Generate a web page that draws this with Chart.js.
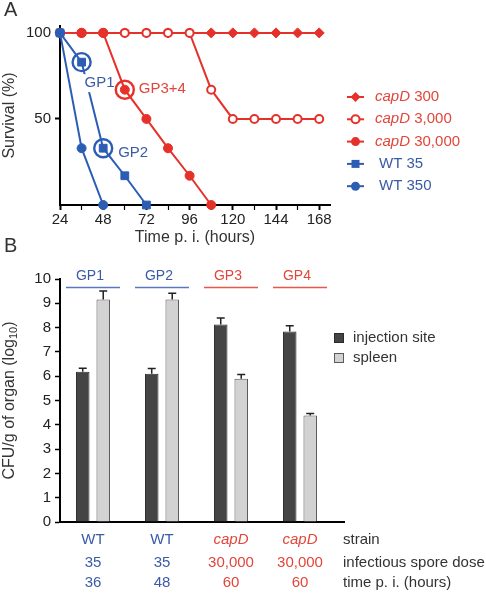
<!DOCTYPE html>
<html>
<head>
<meta charset="utf-8">
<script src="https://cdn.jsdelivr.net/npm/chart.js@4/dist/chart.umd.min.js"></script>
<style>
  html, body { margin: 0; padding: 0; background: #fff; }
  #wrap { position: relative; width: 486px; height: 601px; overflow: hidden; }
  canvas { position: absolute; left: 0; }
  #survival { top: 0; }
  #cfu { top: 240px; }
  .panel { position: absolute; left: 4px; font: 20px 'Liberation Sans', Arial, sans-serif; color: #333; }
</style>
</head>
<body>
<div id="wrap">
  <canvas id="survival" width="486" height="250"></canvas>
  <canvas id="cfu" width="486" height="361"></canvas>
  <div class="panel" style="top:-2px">A</div>
  <div class="panel" style="top:234px">B</div>
</div>
<script>
// panel A: survival (%) at hours post infection
const hours = [24, 36, 48, 60, 72, 84, 96, 108, 120, 132, 144, 156, 168];
const capD300 = [100, 100, 100, 100, 100, 100, 100, 100, 100, 100, 100, 100, 100];
const capD3000 = [100, 100, 100, 100, 100, 100, 100, 67, 50, 50, 50, 50, 50];
const capD30000 = [100, 100, 100, 67, 50, 33, 17, 0];
const wt35 = [100, 83, 33, 17, 0];
const wt350 = [100, 33, 0];
const survivalTicks = [50, 100];

// panel B: CFU per gram of organ (log10)
const groups = ["GP1", "GP2", "GP3", "GP4"];
const strains = ["WT", "WT", "capD", "capD"];
const doses = ["35", "35", "30,000", "30,000"];
const timesPi = ["36", "48", "60", "60"];
const injectionSite = [6.18, 6.1, 8.13, 7.84];
const injectionErr = [0.15, 0.22, 0.27, 0.24];
const spleen = [9.16, 9.16, 5.9, 4.38];
const spleenErr = [0.35, 0.25, 0.17, 0.08];

const RED = "#e6302a";
const BLUE = "#2c5db5";
const TXT_RED = "#e2453a";
const TXT_BLUE = "#3a5ba8";
const FONT = "'Liberation Sans', Arial, sans-serif";

Chart.defaults.font.family = FONT;
Chart.defaults.color = "#222";

const pts = (ys) => ys.map((y, i) => ({ x: hours[i], y: y }));

const survivalLegend = [
  { italic: "capD", rest: " 300", color: RED, text: TXT_RED, style: "diamond" },
  { italic: "capD", rest: " 3,000", color: RED, text: TXT_RED, style: "open" },
  { italic: "capD", rest: " 30,000", color: RED, text: TXT_RED, style: "circle" },
  { italic: "", rest: "WT 35", color: BLUE, text: TXT_BLUE, style: "square" },
  { italic: "", rest: "WT 350", color: BLUE, text: TXT_BLUE, style: "circle" }
];

const drawMarker = (ctx, style, color, x, y) => {
  ctx.save();
  ctx.fillStyle = color;
  ctx.strokeStyle = color;
  ctx.lineWidth = 2;
  ctx.beginPath();
  if (style === "diamond") {
    ctx.moveTo(x, y - 5); ctx.lineTo(x + 5, y); ctx.lineTo(x, y + 5); ctx.lineTo(x - 5, y);
    ctx.closePath(); ctx.fill();
  } else if (style === "square") {
    ctx.rect(x - 4, y - 4, 8, 8); ctx.fill();
  } else if (style === "open") {
    ctx.arc(x, y, 4, 0, Math.PI * 2); ctx.fillStyle = "#fff"; ctx.fill(); ctx.stroke();
  } else {
    ctx.arc(x, y, 4.5, 0, Math.PI * 2); ctx.fill();
  }
  ctx.restore();
};

const survivalExtras = {
  id: "survivalExtras",
  afterDatasetsDraw(chart) {
    const { ctx, scales: { x, y } } = chart;
    // circled group markers with their labels
    const marks = [
      { h: 36, v: wt35[1], color: BLUE, text: "GP1", tc: TXT_BLUE, dx: 3, dy: 21 },
      { h: 48, v: wt35[2], color: BLUE, text: "GP2", tc: TXT_BLUE, dx: 15, dy: 5 },
      { h: 60, v: capD30000[3], color: RED, text: "GP3+4", tc: TXT_RED, dx: 14, dy: -1 }
    ];
    ctx.save();
    ctx.font = "15px " + FONT;
    ctx.textBaseline = "middle";
    marks.forEach(m => {
      const px = x.getPixelForValue(m.h);
      const py = y.getPixelForValue(m.v);
      ctx.beginPath();
      ctx.arc(px, py, 9, 0, Math.PI * 2);
      ctx.strokeStyle = m.color;
      ctx.lineWidth = 2.4;
      ctx.stroke();
      const w = ctx.measureText(m.text).width;
      ctx.fillStyle = "#fff";
      ctx.fillRect(px + m.dx - 2, py + m.dy - 9, w + 4, 18);
      ctx.fillStyle = m.tc;
      ctx.fillText(m.text, px + m.dx, py + m.dy);
    });

    // legend
    survivalLegend.forEach((e, i) => {
      const ly = 97 + i * 22.3;
      ctx.strokeStyle = e.color;
      ctx.lineWidth = 2;
      ctx.beginPath();
      ctx.moveTo(347, ly); ctx.lineTo(364, ly); ctx.stroke();
      drawMarker(ctx, e.style, e.color, 355.5, ly);
      let tx = e.italic ? 375 : 379;
      ctx.fillStyle = e.text;
      if (e.italic) {
        ctx.font = "italic 15px " + FONT;
        ctx.fillText(e.italic, tx, ly);
        tx += ctx.measureText(e.italic).width;
      }
      ctx.font = "15px " + FONT;
      ctx.fillText(e.rest, tx, ly);
    });
    ctx.restore();
  }
};

new Chart(document.getElementById("survival"), {
  type: "line",
  data: {
    datasets: [
      { label: "WT 350", data: pts(wt350), borderColor: BLUE, backgroundColor: BLUE,
        pointStyle: "circle", pointRadius: 4.5, order: 0 },
      { label: "WT 35", data: pts(wt35), borderColor: BLUE, backgroundColor: BLUE,
        pointStyle: "rect", pointRadius: 5.5, order: 1 },
      { label: "capD 30,000", data: pts(capD30000), borderColor: RED, backgroundColor: RED,
        pointStyle: "circle", pointRadius: 4.5, order: 2 },
      { label: "capD 3,000", data: pts(capD3000), borderColor: RED, backgroundColor: "#fff",
        pointStyle: "circle", pointRadius: 4, pointBorderWidth: 2, order: 3 },
      { label: "capD 300", data: pts(capD300), borderColor: RED, backgroundColor: RED,
        pointStyle: "rectRot", pointRadius: 5, order: 4 }
    ]
  },
  options: {
    responsive: false,
    animation: false,
    devicePixelRatio: 1,
    clip: false,
    elements: { line: { borderWidth: 2, tension: 0 }, point: { borderWidth: 1 } },
    layout: { padding: { top: 26, right: 156, left: 0, bottom: 0 } },
    plugins: { legend: { display: false }, tooltip: { enabled: false } },
    scales: {
      x: {
        type: "linear", min: 24, max: 174,
        afterBuildTicks: s => { s.ticks = hours.map(v => ({ value: v })); },
        afterFit: s => { s.height = 45; },
        ticks: {
          autoSkip: false, maxRotation: 0, padding: 1,
          font: { size: 15 }, color: "#222",
          callback: v => (v % 24 === 0 ? v : "")
        },
        grid: {
          drawOnChartArea: false, tickLength: 5, color: "#000",
          tickWidth: c => (c.tick && c.tick.value % 24 === 0 ? 2 : 1.2)
        },
        border: { color: "#000", width: 2 },
        title: { display: true, text: "Time p. i. (hours)", font: { size: 16 }, color: "#333",
          padding: { top: 0, bottom: 3 } }
      },
      y: {
        min: 0, max: 104,
        afterBuildTicks: s => { s.ticks = survivalTicks.map(v => ({ value: v })); },
        afterFit: s => { s.width = 60; },
        ticks: { padding: 4, font: { size: 15 }, color: "#222" },
        grid: { drawOnChartArea: false, tickLength: 5, color: "#000", tickWidth: 2 },
        border: { color: "#000", width: 2 },
        title: { display: true, text: "Survival (%)", font: { size: 16 }, color: "#333",
          padding: { top: 0, bottom: 0 } }
      }
    }
  },
  plugins: [survivalExtras]
});

const cfuExtras = {
  id: "cfuExtras",
  afterDatasetsDraw(chart) {
    const { ctx, scales: { x, y } } = chart;
    const errs = [injectionErr, spleenErr];
    ctx.save();

    // error bars
    ctx.strokeStyle = "#222";
    ctx.lineWidth = 1.5;
    chart.data.datasets.forEach((ds, di) => {
      chart.getDatasetMeta(di).data.forEach((bar, i) => {
        const top = y.getPixelForValue(ds.data[i].y + errs[di][i]);
        ctx.beginPath();
        ctx.moveTo(bar.x, bar.y); ctx.lineTo(bar.x, top);
        ctx.moveTo(bar.x - 4, top); ctx.lineTo(bar.x + 4, top);
        ctx.stroke();
      });
    });

    // group headers with underline
    groups.forEach((g, i) => {
      const cx = x.getPixelForValue(i);
      const col = strains[i] === "WT" ? TXT_BLUE : TXT_RED;
      ctx.fillStyle = col;
      ctx.font = "14px " + FONT;
      ctx.textAlign = "center";
      ctx.textBaseline = "middle";
      ctx.fillText(g, cx - 3, 36);
      ctx.strokeStyle = strains[i] === "WT" ? "#5a78bd" : "#e8574c";
      ctx.lineWidth = 1.5;
      ctx.beginPath();
      ctx.moveTo(cx - 27, 47.5); ctx.lineTo(cx + 27, 47.5);
      ctx.stroke();
    });

    // rows under the bars
    const rows = [strains, doses, timesPi];
    const rowY = [300, 322.5, 343];
    rows.forEach((row, r) => {
      row.forEach((t, i) => {
        const cx = x.getPixelForValue(i);
        ctx.fillStyle = strains[i] === "WT" ? TXT_BLUE : TXT_RED;
        ctx.font = (r === 0 && t === "capD" ? "italic " : "") + "15px " + FONT;
        ctx.textAlign = "center";
        ctx.fillText(t, cx, rowY[r]);
      });
    });
    ctx.textAlign = "left";
    ctx.fillStyle = "#333";
    ctx.font = "15px " + FONT;
    ["strain", "infectious spore dose", "time p. i. (hours)"].forEach((t, r) => {
      ctx.fillText(t, 343, rowY[r]);
    });

    // legend
    chart.data.datasets.forEach((ds, di) => {
      const ly = 98 + di * 20;
      ctx.fillStyle = ds.backgroundColor;
      ctx.fillRect(334.5, ly - 4.5, 9, 9);
      ctx.strokeStyle = ds.borderColor;
      ctx.lineWidth = 1;
      ctx.strokeRect(334.5, ly - 4.5, 9, 9);
      ctx.fillStyle = "#333";
      ctx.fillText(ds.label, 353, ly);
    });

    // y title with subscript
    ctx.translate(10, (y.top + y.bottom) / 2);
    ctx.rotate(-Math.PI / 2);
    const a = "CFU/g of organ (log", sub = "10", b = ")";
    ctx.font = "16px " + FONT;
    const wa = ctx.measureText(a).width, wb = ctx.measureText(b).width;
    ctx.font = "11px " + FONT;
    const ws = ctx.measureText(sub).width;
    let tx = -(wa + ws + wb) / 2;
    ctx.fillStyle = "#333";
    ctx.font = "16px " + FONT;
    ctx.fillText(a, tx, 0);
    tx += wa;
    ctx.font = "11px " + FONT;
    ctx.fillText(sub, tx, 4);
    tx += ws;
    ctx.font = "16px " + FONT;
    ctx.fillText(b, tx, 0);
    ctx.restore();
  }
};

new Chart(document.getElementById("cfu"), {
  type: "bar",
  data: {
    datasets: [
      { label: "injection site", data: injectionSite.map((v, i) => ({ x: i, y: v })),
        backgroundColor: "#454545", borderColor: "#2a2a2a", borderWidth: 1 },
      { label: "spleen", data: spleen.map((v, i) => ({ x: i, y: v })),
        backgroundColor: "#d2d2d2", borderColor: "#5a5a5a", borderWidth: 1 }
    ]
  },
  options: {
    responsive: false,
    animation: false,
    devicePixelRatio: 1,
    categoryPercentage: 0.594,
    barPercentage: 0.66,
    layout: { padding: { top: 39, right: 142, left: 0, bottom: 0 } },
    plugins: { legend: { display: false }, tooltip: { enabled: false } },
    scales: {
      x: {
        type: "linear", min: -0.478, max: 3.638, offset: false,
        afterFit: s => { s.height = 79; },
        ticks: { display: false },
        grid: { display: false },
        border: { color: "#000", width: 2 }
      },
      y: {
        min: 0, max: 10,
        afterFit: s => { s.width = 60; },
        ticks: { stepSize: 1, padding: 4, font: { size: 15 }, color: "#222" },
        grid: { drawOnChartArea: false, tickLength: 5, color: "#000", tickWidth: 1.5 },
        border: { color: "#000", width: 2 }
      }
    }
  },
  plugins: [cfuExtras]
});
</script>
</body>
</html>
